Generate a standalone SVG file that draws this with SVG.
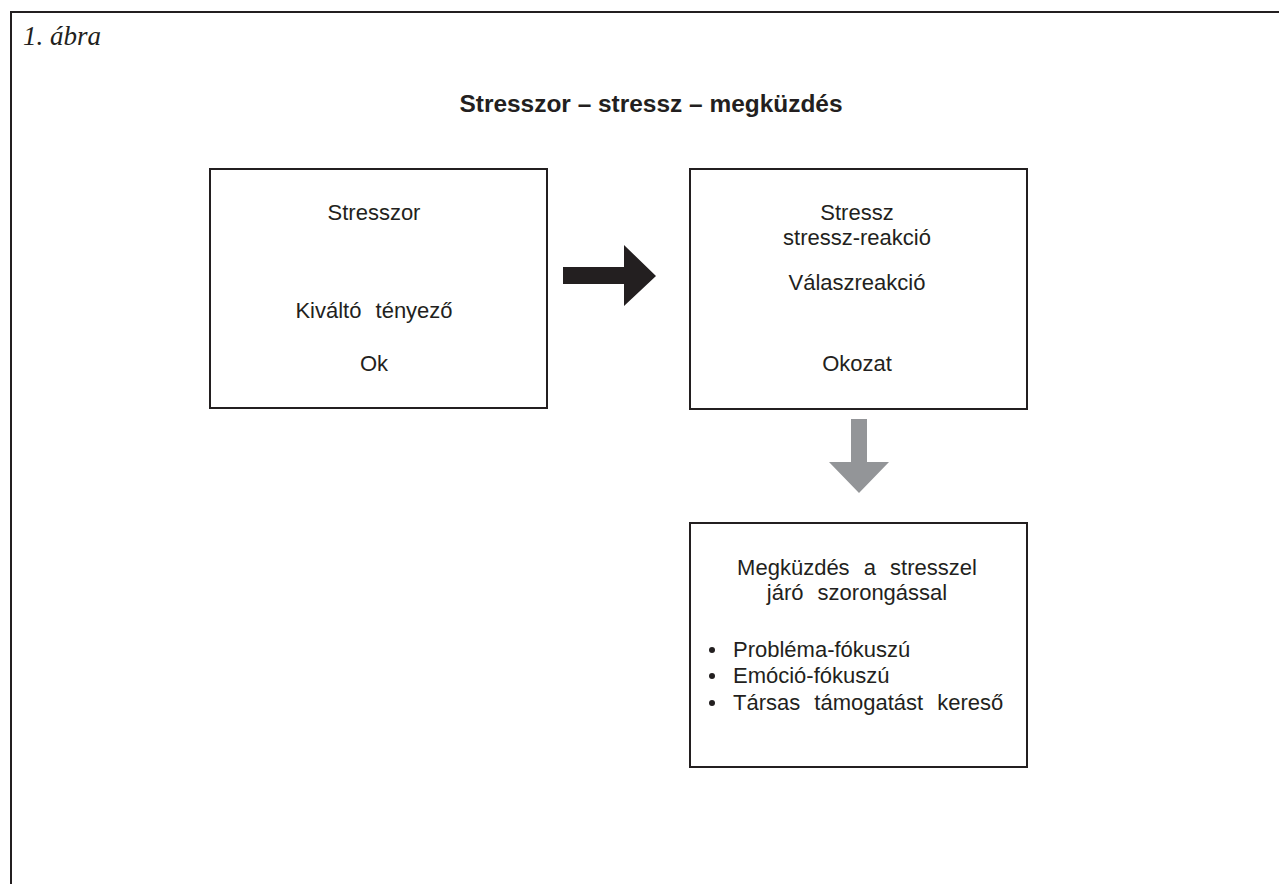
<svg xmlns="http://www.w3.org/2000/svg" width="1279" height="884" viewBox="0 0 1279 884">
<style>
.t{font-family:"Liberation Sans",Arial,sans-serif;font-size:22px;fill:#231f20;text-anchor:middle;word-spacing:8px}
.l{font-family:"Liberation Sans",Arial,sans-serif;font-size:22px;fill:#231f20;word-spacing:8px}
.box{fill:#fff;stroke:#231f20;stroke-width:2}
</style>
<rect width="1279" height="884" fill="#fff"/>
<path d="M11,884 V12 H1279" fill="none" stroke="#231f20" stroke-width="2"/>
<text x="23" y="45" font-family="'Liberation Serif','Times New Roman',serif" font-style="italic" font-size="27" fill="#231f20">1. ábra</text>
<text x="651" y="112" font-family="'Liberation Sans',Arial,sans-serif" font-weight="bold" font-size="23" fill="#231f20" text-anchor="middle" textLength="383" lengthAdjust="spacingAndGlyphs">Stresszor – stressz – megküzdés</text>
<g id="node-stresszor">
<rect class="box" x="210" y="169" width="337" height="239"/>
<text class="t" x="374" y="220">Stresszor</text>
<text class="t" x="374" y="318">Kiváltó tényező</text>
<text class="t" x="374" y="371">Ok</text>
</g>
<g id="node-stressz">
<rect class="box" x="690" y="169" width="337" height="240"/>
<text class="t" x="857" y="220">Stressz</text>
<text class="t" x="857" y="245">stressz-reakció</text>
<text class="t" x="857" y="290">Válaszreakció</text>
<text class="t" x="857" y="371">Okozat</text>
</g>
<g id="node-megkuzdes">
<rect class="box" x="690" y="523" width="337" height="244"/>
<text class="t" x="857" y="575">Megküzdés a stresszel</text>
<text class="t" x="857" y="600">járó szorongással</text>
<circle cx="712" cy="650" r="3" fill="#231f20"/>
<text class="l" x="733" y="657">Probléma-fókuszú</text>
<circle cx="712" cy="676" r="3" fill="#231f20"/>
<text class="l" x="733" y="683">Emóció-fókuszú</text>
<circle cx="712" cy="703" r="3" fill="#231f20"/>
<text class="l" x="733" y="710">Társas támogatást kereső</text>
</g>
<g id="connectors">
<polygon points="563,267 624,267 624,245 656,276 624,306 624,284 563,284" fill="#231f20"/>
<polygon points="851,419 867,419 867,462 889,462 859,493 829,462 851,462" fill="#939598"/>
</g>
</svg>
